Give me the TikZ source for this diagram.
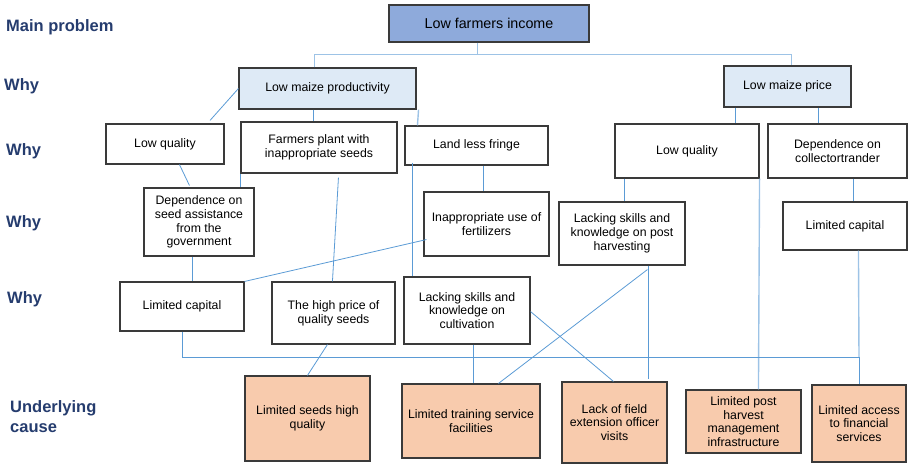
\documentclass[tikz,border=0pt]{standalone}
\usepackage{fontspec}
\setmainfont{Liberation Sans}
\usetikzlibrary{calc}
\definecolor{topfill}{HTML}{8EAADB}
\definecolor{midfill}{HTML}{DEEAF6}
\definecolor{rootfill}{HTML}{F8CBAD}
\definecolor{linkc}{HTML}{5B9BD5}
\definecolor{linklight}{HTML}{9DC3E6}
\definecolor{labc}{HTML}{253C6E}
\definecolor{edgec}{HTML}{3A3A3A}
\begin{document}
\begin{tikzpicture}[x=1pt,y=-1pt,
 box/.style={draw=edgec,line width=1.1pt,fill=white,inner sep=0pt,align=center,font=\fontsize{12.3}{13.8}\selectfont},
 conn/.style={draw=linkc,line width=0.8pt},
 connlight/.style={draw=linklight,line width=1.4pt},
 lab/.style={font=\fontsize{16.5}{20}\selectfont\bfseries,text=labc,anchor=west,inner sep=0pt,align=left}]
\useasboundingbox (0,0) rectangle (908,464);

% level labels
\node[lab] (lMain) at (6,27) {Main problem};
\node[lab] (lWhy1) at (4,86) {Why};
\node[lab] (lWhy2) at (6,151) {Why};
\node[lab] (lWhy3) at (6,223) {Why};
\node[lab] (lWhy4) at (7,299) {Why};
\node[lab] (lUnder) at (10,417) {Underlying\\cause};

% boxes
\node[box,fill=topfill,minimum width=200,minimum height=37,font=\fontsize{14.3}{16}\selectfont] (top) at (489,23.5) {Low farmers income};
\node[box,fill=midfill,minimum width=177,minimum height=41] (lmp) at (327.5,88.5) {Low maize productivity};
\node[box,fill=midfill,minimum width=127,minimum height=41] (lprice) at (787.5,86.5) {Low maize price};
\node[box,minimum width=118,minimum height=40] (lq1) at (165,144) {Low quality};
\node[box,minimum width=156,minimum height=51] (fp) at (319,147.5) {Farmers plant with\\inappropriate seeds};
\node[box,minimum width=143,minimum height=39] (llf) at (476.5,145.5) {Land less fringe};
\node[box,minimum width=144,minimum height=54] (lq2) at (687,151) {Low quality};
\node[box,minimum width=139,minimum height=54] (dc) at (837.5,151) {Dependence on\\collectortrander};
\node[box,minimum width=110,minimum height=68] (dsa) at (199,222) {Dependence on\\seed assistance\\from the\\government};
\node[box,minimum width=125,minimum height=64] (iuf) at (486.5,224) {Inappropriate use of\\fertilizers};
\node[box,minimum width=126,minimum height=63] (lsph) at (622,233.5) {Lacking skills and\\knowledge on post\\harvesting};
\node[box,minimum width=124,minimum height=48] (lc2) at (845,226) {Limited capital};
\node[box,minimum width=124,minimum height=49] (lc1) at (182,306.5) {Limited capital};
\node[box,minimum width=123,minimum height=62] (hp) at (333.5,313) {The high price of\\quality seeds};
\node[box,minimum width=126,minimum height=67] (lsc) at (467,310.5) {Lacking skills and\\knowledge on\\cultivation};
\node[box,fill=rootfill,minimum width=125,minimum height=85] (ls) at (307.5,418.5) {Limited seeds high\\quality};
\node[box,fill=rootfill,minimum width=138,minimum height=74] (lt) at (471,421) {Limited training service\\facilities};
\node[box,fill=rootfill,minimum width=105,minimum height=81] (lf) at (614.5,422.5) {Lack of field\\extension officer\\visits};
\node[box,fill=rootfill,minimum width=115,minimum height=63] (lph) at (743.5,421.5) {Limited post\\harvest\\management\\infrastructure};
\node[box,fill=rootfill,minimum width=94,minimum height=77] (la) at (859,423.5) {Limited access\\to financial\\services};

% connectors
\draw[connlight] ($(top.south west)+(89,0)$) -- ++(0,12) coordinate (j1);
\draw[connlight] ($(lmp.north west)+(76,0)$) |- (j1) -| ($(lprice.north west)+(68,0)$);
\draw[conn] (lmp.west) -- ($(lq1.north)+(45,-3)$);
\draw[conn] ($(lmp.south west)+(75,0)$) -- ($(fp.north west)+(73,0)$);
\draw[connlight] ($(lmp.south east)+(2,0)$) -- ($(llf.north west)+(13,0)$);
\draw[conn] ($(lprice.south west)+(12,0)$) -- ($(lq2.north west)+(121,0)$);
\draw[conn] ($(lprice.south west)+(95,0)$) -- ($(dc.north west)+(51,0)$);
\draw[conn] ($(lq1.south west)+(74,0)$) -- ($(dsa.north west)+(46,-2)$);
\draw[conn] (fp.south west) -- ($(dsa.north west)+(97,0)$);
\draw[conn] ($(fp.south west)+(98,4)$) -- ($(hp.north west)+(61,0)$);
\draw[conn] ($(llf.south west)+(8,-3)$) -- ($(lsc.north west)+(9,0)$);
\draw[conn] ($(llf.south west)+(79,0)$) -- ($(iuf.north west)+(60,0)$);
\draw[conn] ($(iuf.south west)+(3,-17)$) -- (lc1.north east);
\draw[conn] ($(dsa.south west)+(49,0)$) -- ($(lc1.north west)+(73,0)$);
\draw[conn] ($(lq2.south west)+(10,0)$) -- ($(lsph.north west)+(66,0)$);
\draw[conn] ($(dc.south west)+(86,0)$) -- ($(lc2.north west)+(71,0)$);
\draw[connlight] (lq2.south east) -- ($(lph.north west)+(73,0)$);
\coordinate (j2) at ($(la.north)+(0,-27)$);
\draw[connlight] ($(lc2.south west)+(76,0)$) -- (j2);
\draw[conn] (j2) -- (la.north);
\draw[conn] (lc1.south) |- (j2);
\draw[conn] ($(lsc.south west)+(70,0)$) -- ($(lt.north west)+(72,0)$);
\draw[conn] ($(hp.south west)+(56,0)$) -- ($(ls.north west)+(63,0)$);
\draw[conn] ($(lsph.south west)+(89,4)$) -- ($(lt.north west)+(97,0)$);
\draw[conn] ($(lsph.south west)+(90,0)$) -- ($(lf.north west)+(87,-2)$);
\draw[conn] ($(lsc.south east)+(0,-33)$) -- ($(lf.north west)+(52,0)$);
\end{tikzpicture}
\end{document}
